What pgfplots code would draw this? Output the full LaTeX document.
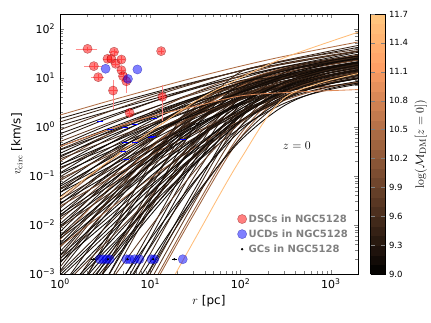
\documentclass[border=0pt]{standalone}
\usepackage[no-math]{fontspec}
\setmainfont{DejaVu Sans}
\usepackage{pgfplots}
\pgfplotsset{compat=1.18}

% copper colormap levels
\definecolor{k05}{rgb}{0.0625,0.039,0.025}
\definecolor{k10}{rgb}{0.125,0.078,0.050}
\definecolor{k15}{rgb}{0.188,0.117,0.075}
\definecolor{k20}{rgb}{0.25,0.156,0.100}
\definecolor{k25}{rgb}{0.313,0.195,0.124}
\definecolor{k30}{rgb}{0.375,0.234,0.149}
\definecolor{k35}{rgb}{0.438,0.273,0.174}
\definecolor{k45}{rgb}{0.563,0.352,0.224}
\definecolor{k50}{rgb}{0.625,0.391,0.249}
\definecolor{k55}{rgb}{0.688,0.430,0.274}
\definecolor{k70}{rgb}{0.875,0.547,0.348}
\definecolor{k95}{rgb}{1,0.742,0.473}

\pgfplotsset{cv/.style={forget plot, smooth, no markers, line width=0.85pt}}

\begin{document}
\begin{tikzpicture}
\path[use as bounding box] (-60pt,-49pt) rectangle (371pt,274pt);
\begin{axis}[
  at={(0pt,0pt)}, anchor=south west,
  scale only axis, width=298pt, height=260pt,
  xmode=log, ymode=log,
  xmin=1, xmax=2000, ymin=1e-3, ymax=200,
  xtick={1,10,100,1000},
  xticklabels={10\textsuperscript{0},10\textsuperscript{1},10\textsuperscript{2},10\textsuperscript{3}},
  ytick={0.001,0.01,0.1,1,10,100},
  yticklabels={10\textsuperscript{−3},10\textsuperscript{−2},10\textsuperscript{−1},10\textsuperscript{0},10\textsuperscript{1},10\textsuperscript{2}},
  tick label style={font=\fontsize{11}{13}\selectfont},
  xticklabel style={yshift=-1pt},
  yticklabel style={xshift=-1.5pt},
  xlabel={$r$ [pc]}, ylabel={$v_{\mathrm{circ}}$ [km/s]},
  label style={font=\fontsize{12}{14}\selectfont},
  axis line style={line width=0.7pt},
  colormap={copper}{rgb(0cm)=(0,0,0) rgb(8cm)=(1,0.625,0.398) rgb(10cm)=(1,0.7812,0.4975)},
  colorbar sampled,
  point meta min=9, point meta max=11.7,
  colorbar style={
    at={(parent axis.north east)}, anchor=north west, xshift=4pt,
    width=15pt, samples=28,
    ytick={9,9.3,9.6,9.9,10.2,10.5,10.8,11.1,11.4,11.7},
    yticklabels={9.0,9.3,9.6,9.9,10.2,10.5,10.8,11.1,11.4,11.7},
    tick label style={font=\fontsize{8.5}{10}\selectfont},
    ylabel={$\log(\mathcal{M}_{\mathrm{DM}}[z=0])$},
    ylabel style={font=\fontsize{13}{15}\selectfont},
    axis line style={line width=0.6pt},
  },
  legend style={at={(0.585,0.245)}, anchor=north west, draw=none, fill=none,
    font=\bfseries\fontsize{10}{11}\selectfont, text=gray, row sep=2pt},
  legend cell align=left,
]

% short blue UCD error segments seen between the curves
\addplot[forget plot, only marks, mark=-, mark size=3pt, blue, mark options={line width=0.7pt}] coordinates {
(2.76,1.3)(3.56,0.88)(5.2,0.97)(6.7,1.1)(10.6,0.65)(11.1,1.5)(5.2,0.49)(6.7,0.49)(10.3,0.6)(23,0.55)(5.4,0.22)(5,0.31)
};

% circular velocity curves
\addplot[cv,k55] coordinates {(1,1.74)(3.16,3.21)(10,5.79)(31.6,10.2)(100,17.3)(316,27.8)(2000,53.7)};
\addplot[cv,k10] coordinates {(1,1.48)(3.16,2.69)(10,4.78)(31.6,8.32)(100,13.8)(316,22.0)(2000,41.7)};
\addplot[cv,k20] coordinates {(1,1.26)(3.16,2.39)(10,4.45)(31.6,8.07)(100,13.9)(316,22.9)(2000,45.7)};
\addplot[cv,k10] coordinates {(1,1.07)(3.16,1.98)(10,3.57)(31.6,6.31)(100,10.6)(316,17.1)(2000,33.1)};
\addplot[cv,k25] coordinates {(1,0.871)(3.16,1.92)(10,3.99)(31.6,7.78)(100,14.0)(316,22.6)(2000,38.0)};
\addplot[cv,k10] coordinates {(1,0.724)(3.16,1.56)(10,3.17)(31.6,6.05)(100,10.7)(316,17.0)(2000,28.2)};
\addplot[cv,k15] coordinates {(1,0.603)(3.16,1.42)(10,3.11)(31.6,6.41)(100,12.0)(316,20.2)(2000,35.5)};
\addplot[cv,k30] coordinates {(1,0.501)(3.16,1.13)(10,2.38)(31.6,4.72)(100,8.61)(316,14.1)(2000,24.0)};
\addplot[cv,k10] coordinates {(1,0.417)(3.16,1.03)(10,2.34)(31.6,5.0)(100,9.7)(316,16.7)(2000,30.2)};
\addplot[cv,k20] coordinates {(1,0.347)(3.16,0.813)(10,1.77)(31.6,3.64)(100,6.82)(316,11.4)(2000,20.0)};
\addplot[cv,k10] coordinates {(1,0.288)(3.16,0.745)(10,1.78)(31.6,3.95)(100,7.96)(316,14.1)(2000,26.3)};
\addplot[cv,k15] coordinates {(1,0.240)(3.16,0.658)(10,1.67)(31.6,3.76)(100,7.26)(316,11.8)(2000,21.2)};
\addplot[cv,k35] coordinates {(1,0.200)(3.16,0.653)(10,1.95)(31.6,5.08)(100,11.0)(316,19.5)(2000,35)};
\addplot[cv,k10] coordinates {(1,0.166)(3.16,0.522)(10,1.51)(31.6,3.81)(100,8.07)(316,14.1)(2000,25.4)};
\addplot[cv,k20] coordinates {(1,0.138)(3.16,0.414)(10,1.14)(31.6,2.78)(100,5.70)(316,9.68)(2000,17.4)};
\addplot[cv,k10] coordinates {(1,0.115)(3.16,0.406)(10,1.30)(31.6,3.59)(100,8.18)(316,15.1)(2000,27.2)};
\addplot[cv,k15] coordinates {(1,0.0955)(3.16,0.330)(10,1.04)(31.6,2.82)(100,6.34)(316,11.5)(2000,20.7)};
\addplot[cv,k25] coordinates {(1,0.0794)(3.16,0.260)(10,0.776)(31.6,2.02)(100,4.39)(316,7.78)(2000,14.0)};
\addplot[cv,k10] coordinates {(1,0.0661)(3.16,0.272)(10,1.01)(31.6,3.17)(100,8.0)(316,15.8)(2000,28.4)};
\addplot[cv,k20] coordinates {(1,0.0550)(3.16,0.209)(10,0.718)(31.6,2.11)(100,5.06)(316,9.64)(2000,17.4)};
\addplot[cv,k10] coordinates {(1,0.0457)(3.16,0.218)(10,0.908)(31.6,3.09)(100,7.89)(316,14.4)(2000,25.9)};
\addplot[cv,k15] coordinates {(1,0.0380)(3.16,0.162)(10,0.610)(31.6,1.90)(100,4.54)(316,7.93)(2000,14.3)};
\addplot[cv,k45] coordinates {(1,0.0316)(3.16,0.171)(10,0.804)(31.6,3.03)(100,8.36)(316,16.0)(2000,28.8)};
\addplot[cv,k10] coordinates {(1,0.0263)(3.16,0.131)(10,0.565)(31.6,1.99)(100,5.20)(316,9.62)(2000,17.3)};
\addplot[cv,k20] coordinates {(1,0.0219)(3.16,0.123)(10,0.596)(31.6,2.31)(100,6.50)(316,12.6)(2000,22.7)};
\addplot[cv,k10] coordinates {(1,0.0182)(3.16,0.0900)(10,0.386)(31.6,1.35)(100,3.53)(316,6.52)(2000,11.7)};
\addplot[cv,k15] coordinates {(1,0.0151)(3.16,0.0973)(10,0.533)(31.6,2.30)(100,7.01)(316,14.4)(2000,25.9)};
\addplot[cv,k30] coordinates {(1,0.0126)(3.16,0.0778)(10,0.410)(31.6,1.71)(100,5.09)(316,10.3)(2000,18.5)};
\addplot[cv,k10] coordinates {(1,0.0105)(3.16,0.0631)(10,0.326)(31.6,1.33)(100,3.92)(316,7.82)(2000,14.1)};
\addplot[cv,k20] coordinates {(1,0.00871)(3.16,0.0710)(10,0.494)(31.6,2.53)(100,7.94)(316,14.8)(2000,26.6)};
\addplot[cv,k10] coordinates {(1,0.00724)(3.16,0.0553)(10,0.365)(31.6,1.78)(100,5.40)(316,9.84)(2000,17.7)};
\addplot[cv,k15] coordinates {(1,0.00603)(3.16,0.0436)(10,0.272)(31.6,1.27)(100,3.74)(316,6.70)(2000,12.1)};
\addplot[cv,k50] coordinates {(1,0.00501)(3.16,0.0459)(10,0.357)(31.6,2.00)(100,6.73)(316,12.9)(2000,23.2)};
\addplot[cv,k10] coordinates {(1,0.00417)(3.16,0.0348)(10,0.248)(31.6,1.29)(100,4.12)(316,7.71)(2000,13.9)};
\addplot[cv,k20] coordinates {(1,0.00347)(3.16,0.0336)(10,0.275)(31.6,1.61)(100,5.58)(316,10.9)(2000,19.6)};
\addplot[cv,k10] coordinates {(1,0.00288)(3.16,0.0247)(10,0.180)(31.6,0.959)(100,3.10)(316,5.83)(2000,10.5)};
\addplot[cv,k15] coordinates {(1,0.00240)(3.16,0.0273)(10,0.260)(31.6,1.70)(100,5.73)(316,10.1)(2000,18.2)};
\addplot[cv,k25] coordinates {(1,0.00200)(3.16,0.0259)(10,0.278)(31.6,2.01)(100,7.23)(316,13.1)(2000,23.6)};
\addplot[cv,k10] coordinates {(1,0.00166)(3.16,0.0194)(10,0.189)(31.6,1.26)(100,4.31)(316,7.62)(2000,13.7)};
\addplot[cv,k20] coordinates {(1,0.00138)(3.16,0.0190)(10,0.215)(31.6,1.63)(100,6.04)(316,11.1)(2000,20.0)};
\addplot[cv,k10] coordinates {(1,0.00115)(3.16,0.0156)(10,0.175)(31.6,1.31)(100,4.82)(316,8.83)(2000,15.9)};
\addplot[cv,k10] coordinates {(1,5.0e-4)(3.16,0.00902)(10,0.131)(31.6,1.22)(100,5.16)(316,10.1)(2000,18.2)};
\addplot[cv,k20] coordinates {(1,2.5e-4)(3.16,0.00508)(10,0.0824)(31.6,0.839)(100,3.78)(316,7.59)(2000,13.7)};
\addplot[cv,k10] coordinates {(1,1.26e-4)(3.16,0.00353)(10,0.0776)(31.6,1.02)(100,5.38)(316,11.7)(2000,21.1)};
\addplot[cv,k15] coordinates {(1,6.3e-5)(3.16,0.00179)(10,0.0399)(31.6,0.527)(100,2.81)(316,6.12)(2000,11.0)};
\addplot[cv,k30] coordinates {(1,3.2e-5)(3.16,0.00122)(10,0.0356)(31.6,0.594)(100,3.69)(316,8.61)(2000,15.5)};
\addplot[cv,k10] coordinates {(1,1.6e-5)(3.16,7.0e-4)(10,0.0236)(31.6,0.440)(100,2.92)(316,7.06)(2000,12.7)};
\addplot[cv,k20] coordinates {(1,7.9e-6)(3.16,4.7e-4)(10,0.0208)(31.6,0.488)(100,3.76)(316,9.73)(2000,17.5)};
\addplot[cv,k10] coordinates {(1,1.6e-5)(3.16,7.2e-4)(10,0.0316)(31.6,1.02)(100,7.41)(316,10.8)(2000,19.4)};
\addplot[cv,k15] coordinates {(1,3.8e-6)(3.16,1.7e-4)(10,0.00759)(31.6,0.309)(100,5.75)(316,15.6)(2000,28.1)};
\addplot[cv,k10] coordinates {(1,1.9e-6)(3.16,8.5e-5)(10,0.00380)(31.6,0.155)(100,2.88)(316,7.82)(2000,14.1)};
\addplot[cv,k20] coordinates {(1,1.3e-6)(3.16,5.8e-5)(10,0.00257)(31.6,0.105)(100,1.95)(316,5.28)(2000,7.6)};
\addplot[cv,k10] coordinates {(1,6.5e-7)(3.16,2.9e-5)(10,0.00129)(31.6,0.0562)(100,1.82)(316,13.2)(2000,23.8)};
\addplot[cv,k30] coordinates {(1,3.6e-7)(3.16,1.6e-5)(10,7.2e-4)(31.6,0.0316)(100,1.02)(316,7.41)(2000,13.3)};
\addplot[cv,k45] coordinates {(1,2.6e-7)(3.16,1.15e-5)(10,5.1e-4)(31.6,0.0224)(100,0.724)(316,5.25)(2000,9.5)};
\addplot[cv,k50] coordinates {(1,2.1e-7)(3.16,9.5e-6)(10,4.3e-4)(31.6,0.0186)(100,0.603)(316,4.37)(2000,7.9)};
\addplot[cv,k20] coordinates {(1,2.9e-5)(3.16,0.00129)(10,0.0562)(31.6,1.82)(100,13.2)(316,19.2)(2000,34.6)};
\addplot[cv,k15] coordinates {(1,9.5e-5)(3.16,0.00427)(10,0.174)(31.6,3.24)(100,8.77)(316,9.89)(2000,17.8)};
\addplot[cv,k10] coordinates {(1,2.7e-6)(3.16,1.2e-4)(10,0.00537)(31.6,0.219)(100,4.07)(316,11.0)(2000,19.8)};
\addplot[cv,k20] coordinates {(1,5.1e-7)(3.16,2.3e-5)(10,0.00102)(31.6,0.0447)(100,1.45)(316,10.5)(2000,18.9)};
% second set of halos, further out in radius
\addplot[cv,k05] coordinates {(1,0.395)(3.16,0.871)(10,1.92)(31.6,3.99)(100,7.78)(316,14.0)(1000,22.6)(6320,38.0)};
\addplot[cv,k10] coordinates {(1,0.336)(3.16,0.724)(10,1.56)(31.6,3.17)(100,6.05)(316,10.7)(1000,17.0)(6320,28.2)};
\addplot[cv,k05] coordinates {(1,0.256)(3.16,0.603)(10,1.42)(31.6,3.11)(100,6.41)(316,12.0)(1000,20.2)(6320,35.5)};
\addplot[cv,k20] coordinates {(1,0.222)(3.16,0.501)(10,1.13)(31.6,2.38)(100,4.72)(316,8.61)(1000,14.1)(6320,24.0)};
\addplot[cv,k05] coordinates {(1,0.169)(3.16,0.417)(10,1.03)(31.6,2.34)(100,5.0)(316,9.7)(1000,16.7)(6320,30.2)};
\addplot[cv,k10] coordinates {(1,0.148)(3.16,0.347)(10,0.813)(31.6,1.77)(100,3.64)(316,6.82)(1000,11.4)(6320,20.0)};
\addplot[cv,k05] coordinates {(1,0.111)(3.16,0.288)(10,0.745)(31.6,1.78)(100,3.95)(316,7.96)(1000,14.1)(6320,26.3)};
\addplot[cv,k30] coordinates {(1,0.0875)(3.16,0.240)(10,0.658)(31.6,1.67)(100,3.76)(316,7.26)(1000,11.8)(6320,21.2)};
\addplot[cv,k05] coordinates {(1,0.0613)(3.16,0.200)(10,0.653)(31.6,1.95)(100,5.08)(316,11.0)(1000,19.5)(6320,35)};
\addplot[cv,k10] coordinates {(1,0.0528)(3.16,0.166)(10,0.522)(31.6,1.51)(100,3.81)(316,8.07)(1000,14.1)(6320,25.4)};
\addplot[cv,k05] coordinates {(1,0.0460)(3.16,0.138)(10,0.414)(31.6,1.14)(100,2.78)(316,5.70)(1000,9.68)(6320,17.4)};
\addplot[cv,k15] coordinates {(1,0.0326)(3.16,0.115)(10,0.406)(31.6,1.30)(100,3.59)(316,8.18)(1000,15.1)(6320,27.2)};
\addplot[cv,k05] coordinates {(1,0.0276)(3.16,0.0955)(10,0.330)(31.6,1.04)(100,2.82)(316,6.34)(1000,11.5)(6320,20.7)};
\addplot[cv,k35] coordinates {(1,0.0242)(3.16,0.0794)(10,0.260)(31.6,0.776)(100,2.02)(316,4.39)(1000,7.78)(6320,14.0)};
\addplot[cv,k05] coordinates {(1,0.0161)(3.16,0.0661)(10,0.272)(31.6,1.01)(100,3.17)(316,8.0)(1000,15.8)(6320,28.4)};
\addplot[cv,k10] coordinates {(1,0.0145)(3.16,0.0550)(10,0.209)(31.6,0.718)(100,2.11)(316,5.06)(1000,9.64)(6320,17.4)};
\addplot[cv,k05] coordinates {(1,0.00958)(3.16,0.0457)(10,0.218)(31.6,0.908)(100,3.09)(316,7.89)(1000,14.4)(6320,25.9)};
\addplot[cv,k20] coordinates {(1,0.00891)(3.16,0.0380)(10,0.162)(31.6,0.610)(100,1.90)(316,4.54)(1000,7.93)(6320,14.3)};
\addplot[cv,k05] coordinates {(1,0.00584)(3.16,0.0316)(10,0.171)(31.6,0.804)(100,3.03)(316,8.36)(1000,16.0)(6320,28.8)};
\addplot[cv,k10] coordinates {(1,0.00528)(3.16,0.0263)(10,0.131)(31.6,0.565)(100,1.99)(316,5.20)(1000,9.62)(6320,17.3)};
\addplot[cv,k05] coordinates {(1,0.00390)(3.16,0.0219)(10,0.123)(31.6,0.596)(100,2.31)(316,6.50)(1000,12.6)(6320,22.7)};
\addplot[cv,k45] coordinates {(1,0.00368)(3.16,0.0182)(10,0.0900)(31.6,0.386)(100,1.35)(316,3.53)(1000,6.52)(6320,11.7)};
\addplot[cv,k05] coordinates {(1,0.00234)(3.16,0.0151)(10,0.0973)(31.6,0.533)(100,2.30)(316,7.01)(1000,14.4)(6320,25.9)};
\addplot[cv,k10] coordinates {(1,0.00204)(3.16,0.0126)(10,0.0778)(31.6,0.410)(100,1.71)(316,5.09)(1000,10.3)(6320,18.5)};
\addplot[cv,k05] coordinates {(1,0.00175)(3.16,0.0105)(10,0.0631)(31.6,0.326)(100,1.33)(316,3.92)(1000,7.82)(6320,14.1)};
\addplot[cv,k15] coordinates {(1,0.00107)(3.16,0.00871)(10,0.0710)(31.6,0.494)(100,2.53)(316,7.94)(1000,14.8)(6320,26.6)};
\addplot[cv,k05] coordinates {(1,9.5e-4)(3.16,0.00724)(10,0.0553)(31.6,0.365)(100,1.78)(316,5.40)(1000,9.84)(6320,17.7)};
\addplot[cv,k10] coordinates {(1,8.3e-4)(3.16,0.00603)(10,0.0436)(31.6,0.272)(100,1.27)(316,3.74)(1000,6.70)(6320,12.1)};
\addplot[cv,k05] coordinates {(1,5.5e-4)(3.16,0.00501)(10,0.0459)(31.6,0.357)(100,2.00)(316,6.73)(1000,12.9)(6320,23.2)};
\addplot[cv,k25] coordinates {(1,5.0e-4)(3.16,0.00417)(10,0.0348)(31.6,0.248)(100,1.29)(316,4.12)(1000,7.71)(6320,13.9)};
\addplot[cv,k05] coordinates {(1,3.6e-4)(3.16,0.00347)(10,0.0336)(31.6,0.275)(100,1.61)(316,5.58)(1000,10.9)(6320,19.6)};
\addplot[cv,k10] coordinates {(1,3.4e-4)(3.16,0.00288)(10,0.0247)(31.6,0.180)(100,0.959)(316,3.10)(1000,5.83)(6320,10.5)};
\addplot[cv,k05] coordinates {(1,2.1e-4)(3.16,0.00240)(10,0.0273)(31.6,0.260)(100,1.70)(316,5.73)(1000,10.1)(6320,18.2)};
\addplot[cv,k15] coordinates {(1,1.5e-4)(3.16,0.00200)(10,0.0259)(31.6,0.278)(100,2.01)(316,7.23)(1000,13.1)(6320,23.6)};
\addplot[cv,k05] coordinates {(1,1.4e-4)(3.16,0.00166)(10,0.0194)(31.6,0.189)(100,1.26)(316,4.31)(1000,7.62)(6320,13.7)};
\addplot[cv,k10] coordinates {(1,1.0e-4)(3.16,0.00138)(10,0.0190)(31.6,0.215)(100,1.63)(316,6.04)(1000,11.1)(6320,20.0)};
\addplot[cv,k05] coordinates {(1,8.5e-5)(3.16,0.00115)(10,0.0156)(31.6,0.175)(100,1.31)(316,4.82)(1000,8.83)(6320,15.9)};
\addplot[cv,k30] coordinates {(1,2.8e-5)(3.16,5.0e-4)(10,0.00902)(31.6,0.131)(100,1.22)(316,5.16)(1000,10.1)(6320,18.2)};
\addplot[cv,k05] coordinates {(1,1.2e-5)(3.16,2.5e-4)(10,0.00508)(31.6,0.0824)(100,0.839)(316,3.78)(1000,7.59)(6320,13.7)};
\addplot[cv,k10] coordinates {(1,4.5e-6)(3.16,1.26e-4)(10,0.00353)(31.6,0.0776)(100,1.02)(316,5.38)(1000,11.7)(6320,21.1)};
\addplot[cv,k05] coordinates {(1,2.2e-6)(3.16,6.3e-5)(10,0.00179)(31.6,0.0399)(100,0.527)(316,2.81)(1000,6.12)(6320,11.0)};
\addplot[cv,k15] coordinates {(1,8.4e-7)(3.16,3.2e-5)(10,0.00122)(31.6,0.0356)(100,0.594)(316,3.69)(1000,8.61)(6320,15.5)};
% high-mass halos
\addplot[cv,k70] coordinates {(1,0.398)(3.16,0.832)(10,1.62)(31.6,2.63)(100,4.27)(316,5.01)(2000,5.75)};
\addplot[cv,k95] coordinates {(1,0.0355)(3.16,0.178)(10,0.794)(31.6,3.31)(100,10.0)(316,26.3)(2000,85)};
\addplot[cv,k95] coordinates {(1,6.0e-8)(3.16,2.7e-6)(10,1.2e-4)(31.6,0.00537)(100,0.219)(316,4.07)(2000,12.2)};

% DSCs
\addplot[only marks, mark=*, mark size=4.6pt,
  mark options={draw=red!45!black, fill=red, fill opacity=0.5, draw opacity=0.5},
  error bars/.cd, x dir=both, x explicit, y dir=both, y explicit,
  error bar style={red!45, line width=0.6pt}, error mark options={red!45, mark size=1.5pt}]
  coordinates {
(2.02,39) +- (0.47,1.5)
(2.37,17.3) +- (0.45,1)
(2.65,10.3) +- (0.33,0.8)
(3.36,24.4) +- (0.25,1.5)
(3.71,24.4) +- (0.2,1.5)
(3.97,34) +- (0.3,2)
(4.14,19.3) +- (0.25,1.5)
(4.79,23.6) +- (0.3,2)
(4.79,14.3) +- (0.3,1.5)
(4.99,10.8) +- (0.3,1)
(5.43,8.5) +- (0.3,3.2)
(3.87,5.5) +- (0.2,3.0)
(5.9,1.93) +- (0.2,0.2)
(13.6,4.1) +- (0.5,2.7)
(13.2,35) +- (0.5,2)
};
\addlegendentry{DSCs in NGC5128}

% UCDs
\addplot[only marks, mark=*, mark size=4.6pt,
  mark options={draw=blue!60!black, fill=blue, fill opacity=0.5, draw opacity=0.5}]
  coordinates {
(3.2,15.3)(5.66,9.5)(7.2,14.8)
(2.76,0.002)(3.0,0.002)(3.27,0.002)(3.56,0.002)(5.44,0.002)(5.9,0.002)
(6.7,0.002)(7.6,0.002)(10.3,0.002)(11.1,0.002)(22.9,0.002)
};
\addlegendentry{UCDs in NGC5128}

% GCs
\addplot[only marks, mark=*, mark size=0.9pt, black,
  error bars/.cd, x dir=both, x explicit, error bar style={black, line width=1pt}, error mark=none]
  coordinates {
(2.35,0.002) +- (0.15,0)
(3.4,0.002) +- (0.1,0)
(5.6,0.002) +- (0.1,0)
(10.8,0.002) +- (0.3,0)
(18.5,0.002) +- (1.3,0)
};
\addlegendentry{GCs in NGC5128}

\node[font=\fontsize{12}{14}\selectfont] at (axis cs:420,0.42) {$z=0$};
\end{axis}
\end{tikzpicture}
\end{document}
